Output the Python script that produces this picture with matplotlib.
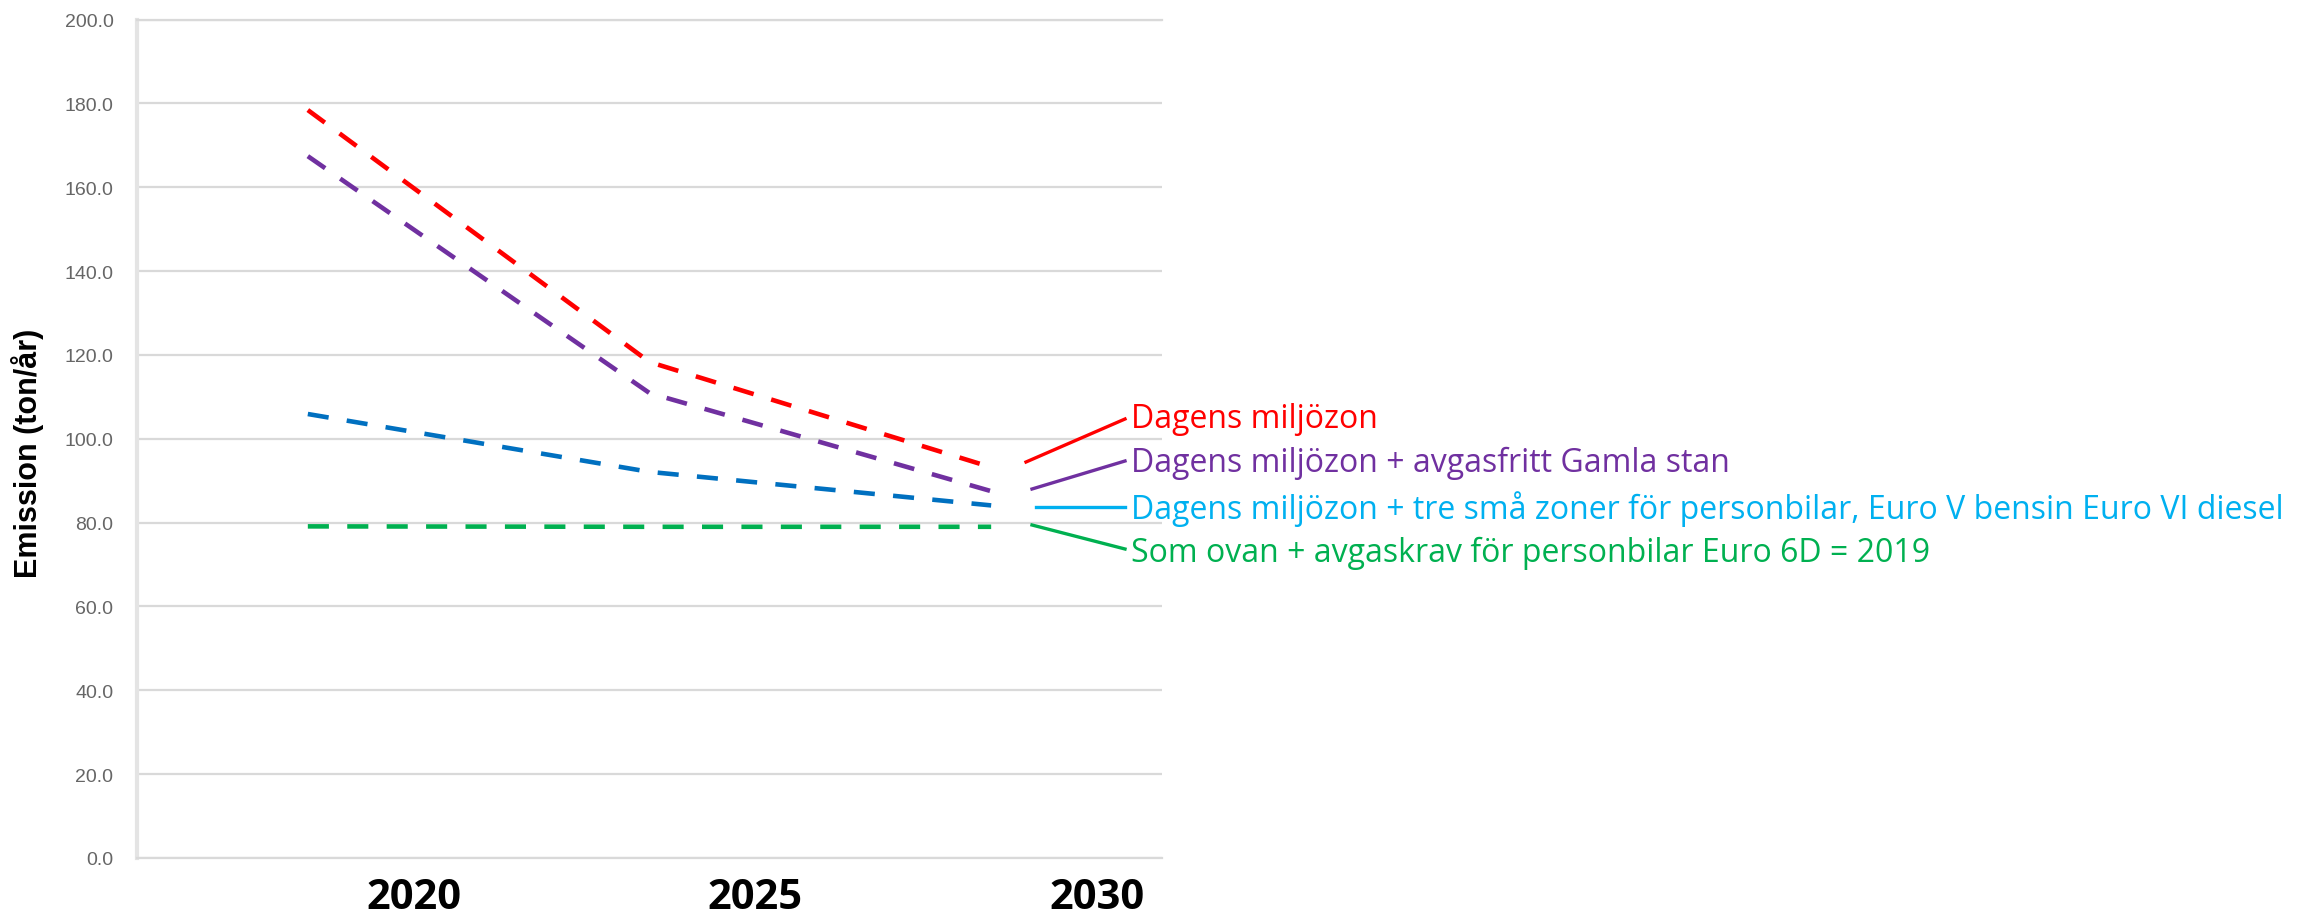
import matplotlib
matplotlib.use("Agg")
import matplotlib.pyplot as plt
from matplotlib.lines import Line2D
import numpy as np

# Data
years = ["2020", "2025", "2030"]
dagens = [178.4, 118.3, 93.2]
gamla_stan = [167.4, 110.9, 87.5]
tre_zoner = [105.9, 92.1, 84.1]
euro_6d = [79.1, 79.0, 79.0]

names = ["Dagens miljözon",
         "Dagens miljözon + avgasfritt Gamla stan",
         "Dagens miljözon + tre små zoner för personbilar, Euro V bensin Euro VI diesel",
         "Som ovan + avgaskrav för personbilar Euro 6D = 2019"]
line_colors = ["#FF0000", "#7030A0", "#0070C0", "#00B050"]
text_colors = ["#FF0000", "#7030A0", "#00B0F0", "#00B050"]

W, H = 2321, 920
fig = plt.figure(figsize=(W / 100, H / 100), dpi=100)
ax = fig.add_axes([137 / W, 1 - 859 / H, (1162 - 137) / W, (859 - 20.5) / H])

x = np.arange(len(years))
for vals, c in zip([dagens, gamla_stan, tre_zoner, euro_6d], line_colors):
    ax.plot(x, vals, color=c, lw=3.3, dashes=(4.6, 4.0), dash_capstyle="butt")

ax.set_xlim(-0.5, 2.5)
ax.set_ylim(0, 200)
ax.set_yticks(np.arange(0, 201, 20))
ax.set_yticklabels([f"{v:.1f}" for v in np.arange(0, 201, 20)])
ax.yaxis.grid(True, color="#D9D9D9", lw=1.6)
ax.set_axisbelow(True)
ax.tick_params(axis="y", length=0, pad=17, labelsize=14, labelcolor="#666666")
for lab in ax.get_yticklabels():
    lab.set_family("Liberation Sans")

# year labels sit a bit right of the category centres, as in the original
ax.set_xticks(x + 0.31)
ax.set_xticklabels(years, fontsize=30, fontweight="bold", family="Open Sans")
ax.tick_params(axis="x", length=0, pad=14)

ax.set_ylabel("Emission (ton/år)", fontsize=22, fontweight="bold",
              family="Liberation Sans")
ax.yaxis.set_label_coords(-0.091, 0.484)

ax.spines["right"].set_visible(False)
ax.spines["top"].set_color("#D9D9D9")
ax.spines["top"].set_linewidth(1.6)
ax.spines["left"].set_color("#E4E4E4")
ax.spines["left"].set_linewidth(3)
ax.spines["bottom"].set_color("#D9D9D9")
ax.spines["bottom"].set_linewidth(1.6)

# leader lines and series names to the right
leaders = [((1026, 463), (1125, 420)),
           ((1032, 490), (1125, 462)),
           ((1036, 508), (1125, 508)),
           ((1032, 526), (1125, 550))]
baselines = [428, 472, 519, 562]
for (p0, p1), base, name, c in zip(leaders, baselines, names, text_colors):
    fig.add_artist(Line2D([p0[0] / W, p1[0] / W], [1 - p0[1] / H, 1 - p1[1] / H],
                          transform=fig.transFigure, color=c, lw=2.4))
    fig.text(1131 / W, 1 - base / H, name, color=c, fontsize=23,
             family="Open Sans", va="baseline", ha="left")

fig.savefig("out.png", dpi=100)
